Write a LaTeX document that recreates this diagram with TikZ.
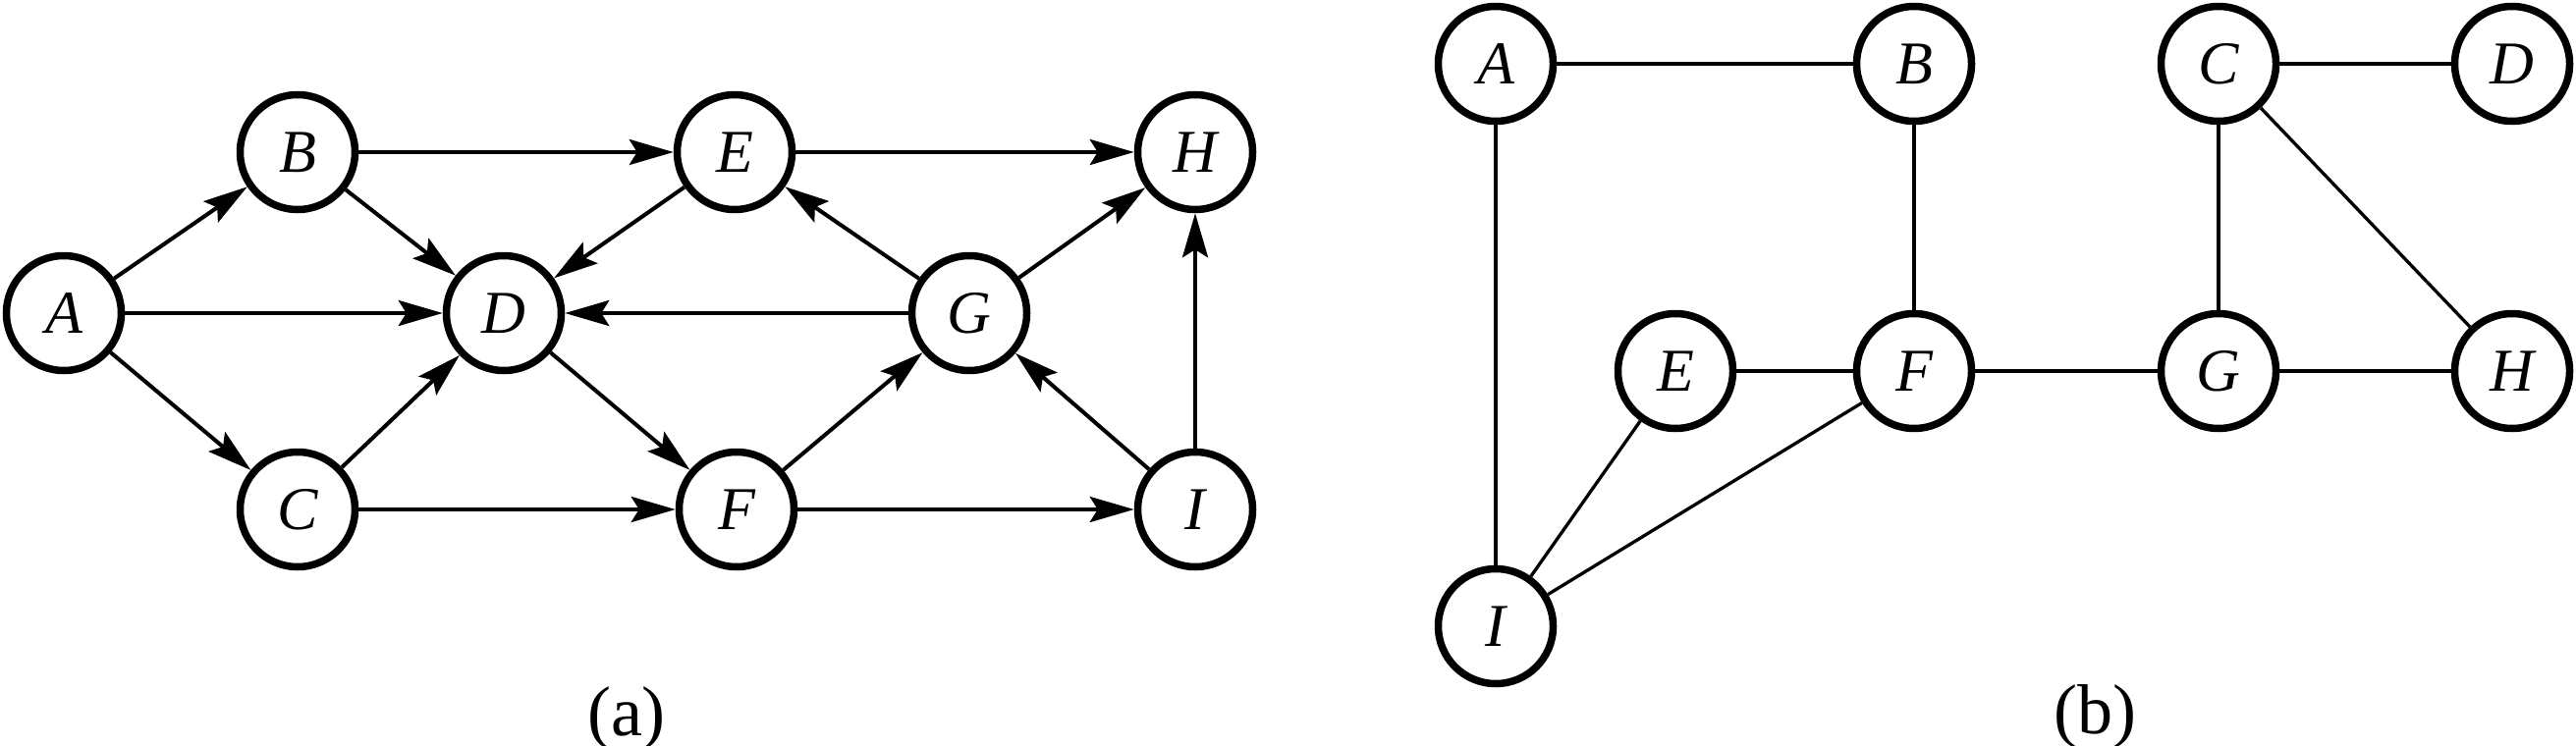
\documentclass[tikz,border=0pt]{standalone}
\usepackage{fontspec}
\setmainfont{Liberation Serif}
\usetikzlibrary{arrows.meta}
\begin{document}
\begin{tikzpicture}[x=1pt,y=-1pt,
  vtx/.style={circle,draw,line width=7.5pt,minimum size=117pt,inner sep=0pt,
    font=\fontsize{62}{66}\selectfont\itshape},
  arr/.style={line width=4pt,-{Stealth[length=45pt,width=26pt,inset=8pt]}},
  ulink/.style={line width=3.3pt},
  subcap/.style={font=\fontsize{72}{80}\selectfont}]
\useasboundingbox (0,0) rectangle (2623,760);
% panel (a)
\node[vtx] (aA) at (65,319) {A};
\node[vtx] (aB) at (303,155) {B};
\node[vtx] (aC) at (303,519) {C};
\node[vtx] (aD) at (513,319) {D};
\node[vtx] (aE) at (748,155) {E};
\node[vtx] (aF) at (750,519) {F};
\node[vtx] (aG) at (987,319) {G};
\node[vtx] (aH) at (1217,155) {H};
\node[vtx] (aI) at (1217,519) {I};
\draw[arr] (aA) -- (aB);
\draw[arr] (aA) -- (aD);
\draw[arr] (aA) -- (aC);
\draw[arr] (aB) -- (aE);
\draw[arr] (aB) -- (aD);
\draw[arr] (aE) -- (aD);
\draw[arr] (aE) -- (aH);
\draw[arr] (aC) -- (aD);
\draw[arr] (aC) -- (aF);
\draw[arr] (aD) -- (aF);
\draw[arr] (aG) -- (aD);
\draw[arr] (aG) -- (aE);
\draw[arr] (aG) -- (aH);
\draw[arr] (aF) -- (aG);
\draw[arr] (aF) -- (aI);
\draw[arr] (aI) -- (aG);
\draw[arr] (aI) -- (aH);
\node[subcap] (capa) at (638,732) {(a)};
% panel (b)
\node[vtx] (bA) at (1523,65) {A};
\node[vtx] (bB) at (1949,65) {B};
\node[vtx] (bC) at (2259,65) {C};
\node[vtx] (bD) at (2558,65) {D};
\node[vtx] (bE) at (1706,378) {E};
\node[vtx] (bF) at (1949,378) {F};
\node[vtx] (bG) at (2259,378) {G};
\node[vtx] (bH) at (2558,378) {H};
\node[vtx] (bI) at (1523,638) {I};
\draw[ulink] (bA) -- (bB);
\draw[ulink] (bA) -- (bI);
\draw[ulink] (bB) -- (bF);
\draw[ulink] (bE) -- (bF);
\draw[ulink] (bF) -- (bG);
\draw[ulink] (bE) -- (bI);
\draw[ulink] (bF) -- (bI);
\draw[ulink] (bC) -- (bD);
\draw[ulink] (bC) -- (bG);
\draw[ulink] (bC) -- (bH);
\draw[ulink] (bG) -- (bH);
\node[subcap] (capb) at (2133,730) {(b)};
\end{tikzpicture}
\end{document}
